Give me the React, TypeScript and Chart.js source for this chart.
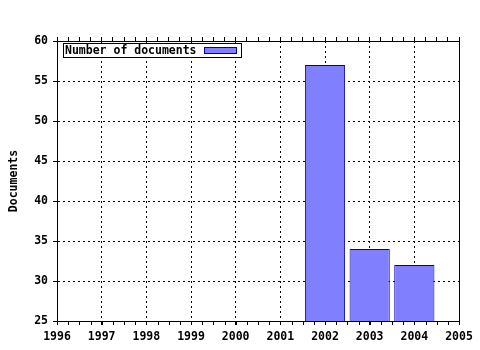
import React, { useEffect, useRef } from "react";
import { Chart, registerables } from "chart.js";

Chart.register(...registerables);

const years = [2002, 2003, 2004];
const documents = [57, 34, 32];
const seriesLabel = "Number of documents";
const yTitle = "Documents";
const xMin = 1996;
const xMax = 2005;
const yMin = 25;
const yMax = 60;

const FONT = { family: "'DejaVu Sans Mono', monospace", size: 11.5, weight: "bold" as const };
const FILL = "#8080ff";
const EDGE = "#0000aa";

const legendPlugin = {
  id: "boxLegend",
  afterDraw(chart: any) {
    const { ctx, chartArea } = chart;
    // minor ticks on the bottom axis
    const sx = chart.scales.x;
    ctx.save();
    ctx.strokeStyle = "#000";
    ctx.lineWidth = 1;
    ctx.beginPath();
    for (let v = xMin; v <= xMax + 1e-9; v += 0.25) {
      const px = Math.round(sx.getPixelForValue(v)) + 0.5;
      ctx.moveTo(px, chartArea.bottom);
      ctx.lineTo(px, chartArea.bottom + 4);
    }
    ctx.stroke();

    const x = chartArea.left + 6.5;
    const y = chartArea.top + 2.5;
    const w = 178;
    const h = 14;
    ctx.fillStyle = "#ffffff";
    ctx.fillRect(x, y, w, h);
    ctx.strokeStyle = "#000000";
    ctx.strokeRect(x, y, w, h);
    ctx.fillStyle = "#000000";
    ctx.font = `bold ${FONT.size}px ${FONT.family}`;
    ctx.textBaseline = "middle";
    ctx.textAlign = "left";
    ctx.fillText(seriesLabel, x + 1.5, y + h / 2 + 0.5);
    ctx.fillStyle = FILL;
    ctx.fillRect(x + 141, y + 4, 32, 6);
    ctx.strokeStyle = EDGE;
    ctx.strokeRect(x + 141, y + 4, 32, 6);
    ctx.restore();
  },
};

export default function App() {
  const ref = useRef<HTMLCanvasElement>(null);
  useEffect(() => {
    document.body.style.margin = "0";
    const chart = new Chart(ref.current as HTMLCanvasElement, {
      type: "bar",
      data: {
        datasets: [
          {
            label: seriesLabel,
            data: years.map((yr, i) => ({ x: yr, y: documents[i] })),
            backgroundColor: FILL,
            borderColor: EDGE,
            borderWidth: 1,
            borderSkipped: "start",
            barPercentage: 0.9,
            categoryPercentage: 1,
            xAxisID: "x",
            yAxisID: "y",
          },
        ],
      },
      options: {
        animation: false,
        responsive: false,
        devicePixelRatio: 1,
        layout: { padding: { top: 37, left: 0, right: 21, bottom: 5 } },
        plugins: { legend: { display: false }, tooltip: { enabled: false } },
        scales: {
          x: {
            type: "linear",
            position: "bottom",
            min: xMin,
            max: xMax,
            offset: false,
            afterFit: (s: any) => { s.height = 24; },
            ticks: {
              stepSize: 1,
              autoSkip: false,
              maxRotation: 0,
              padding: 5,
              color: "#000",
              font: FONT,
              callback: (v: any) => String(v),
            },
            grid: {
              offset: false,
              color: "#000",
              tickColor: "#000",
              tickBorderDash: [],
              tickLength: 4,
              lineWidth: 1,
            },
            border: { display: true, color: "#000", width: 1, dash: [2, 3] },
          },
          xTop: {
            type: "linear",
            position: "top",
            min: xMin,
            max: xMax,
            offset: false,
            ticks: { stepSize: 0.25, display: false },
            grid: { offset: false, drawOnChartArea: false, tickLength: 4, color: "#000", tickColor: "#000" },
            border: { display: true, color: "#000", width: 1 },
          },
          y: {
            type: "linear",
            position: "left",
            min: yMin,
            max: yMax,
            afterFit: (s: any) => { s.width = 57; },
            ticks: { stepSize: 5, padding: 5, color: "#000", font: FONT },
            grid: {
              color: "#000",
              tickColor: "#000",
              tickBorderDash: [],
              tickLength: 4,
            },
            border: { display: true, color: "#000", width: 1, dash: [2, 3] },
            title: { display: true, text: yTitle, color: "#000", font: FONT, padding: { top: 7, bottom: 0 } },
          },
          yRight: {
            type: "linear",
            position: "right",
            min: yMin,
            max: yMax,
            ticks: { display: false },
            grid: { drawOnChartArea: false, drawTicks: false },
            border: { display: true, color: "#000", width: 1 },
          },
        },
      } as any,
      plugins: [legendPlugin],
    });
    return () => chart.destroy();
  }, []);
  return (
    <div style={{ width: 480, height: 350 }}>
      <canvas ref={ref} width={480} height={350} />
    </div>
  );
}
